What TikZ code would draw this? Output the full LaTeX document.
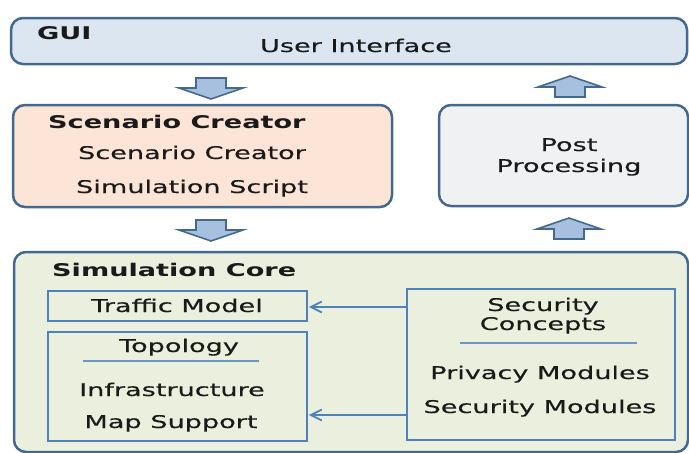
\documentclass[tikz,border=0pt]{standalone}
\usepackage{fontspec}
\setmainfont{DejaVu Sans}[FakeStretch=1.55, UprightFeatures={FakeBold=0.35}]
\usetikzlibrary{arrows.meta}
\definecolor{outerline}{HTML}{44698F}
\definecolor{innerline}{HTML}{4F81BD}
\definecolor{sepcol}{HTML}{6F93C6}
\definecolor{guifill}{HTML}{DCE6F1}
\definecolor{scenfill}{HTML}{FCE4D6}
\definecolor{postfill}{HTML}{EFF1F3}
\definecolor{corefill}{HTML}{EBF0DE}
\definecolor{arrowfill}{HTML}{A8C0DF}
\definecolor{txt}{HTML}{1A1A1A}
\tikzset{
  outerbox/.style={draw=outerline, line width=2.5pt, rounded corners=12pt, inner sep=0pt},
  innerbox/.style={draw=innerline, line width=1.6pt, inner sep=0pt},
  blockarrow/.style={draw=outerline, fill=arrowfill, line width=1.6pt, line join=miter},
  label/.style={anchor=base, inner sep=0pt, text=txt},
  title/.style={anchor=base west, inner sep=0pt, text=txt, font=\fontsize{17.5}{20}\selectfont\bfseries},
  sepline/.style={draw=sepcol, line width=1.3pt},
  conn/.style={draw=innerline, line width=1.8pt, -{Straight Barb[length=11pt,width=11pt]}, shorten >=1pt},
  pics/downblock/.style={code={\draw[blockarrow] (-15,0) -- (15,0) -- (15,10) -- (32,10) -- (0,21) -- (-32,10) -- (-15,10) -- cycle;}},
  pics/upblock/.style={code={\draw[blockarrow] (-15,0) -- (15,0) -- (15,-10) -- (32,-10) -- (0,-21) -- (-32,-10) -- (-15,-10) -- cycle;}}
}
\begin{document}
\begin{tikzpicture}[x=1pt, y=-1pt, font=\fontsize{17.5}{20}\selectfont]
\useasboundingbox (0,0) rectangle (689,453);
\fill[white] (0,0) rectangle (689,453);

% outer boxes
\node[outerbox, fill=guifill, minimum width=676pt, minimum height=46pt] (gui) at (349,41) {};
\node[outerbox, fill=scenfill, minimum width=379pt, minimum height=102pt] (scen) at (202.5,156) {};
\node[outerbox, fill=postfill, minimum width=249pt, minimum height=101pt] (post) at (563.5,155.5) {};
\node[outerbox, fill=corefill, minimum width=674pt, minimum height=200pt] (core) at (351,352) {};

% GUI texts
\node[title] (guit) at (37,39) {GUI};
\node[label] (ui) at (356,52) {User Interface};

% Scenario texts
\node[title] (scent) at (48,128) {Scenario Creator};
\node[label] (sc1) at (192,159) {Scenario Creator};
\node[label] (sc2) at (192,193) {Simulation Script};

% Post texts
\node[label] (post1) at (569,151) {Post};
\node[label] (post2) at (569,172) {Processing};

% block arrows
\pic at (211,78) {downblock};
\pic at (570,97) {upblock};
\pic at (211,220) {downblock};
\pic at (569,239) {upblock};

% core contents
\node[title] (coret) at (52,276) {Simulation Core};
\node[innerbox, minimum width=259pt, minimum height=30pt] (traffic) at (177.5,306) {};
\node[label] (trt) at (177,312) {Traffic Model};
\node[innerbox, minimum width=259pt, minimum height=109pt] (topo) at (177.5,386.5) {};
\node[label] (topt) at (179,352) {Topology};
\draw[sepline] (83,361) -- (259,361);
\node[label] (inf) at (172,396) {Infrastructure};
\node[label] (map) at (171,428) {Map Support};
\node[innerbox, minimum width=268pt, minimum height=151pt] (sec) at (541,364.5) {};
\node[label] (sect1) at (543,311) {Security};
\node[label] (sect2) at (543,330) {Concepts};
\draw[sepline] (460,343) -- (637,343);
\node[label] (priv) at (540,379) {Privacy Modules};
\node[label] (secm) at (540,413) {Security Modules};

% connectors
\coordinate (c1) at (407,307);
\draw[conn] (c1) -- (c1 -| traffic.east);
\coordinate (c2) at (407,415);
\draw[conn] (c2) -- (c2 -| topo.east);
\end{tikzpicture}
\end{document}
